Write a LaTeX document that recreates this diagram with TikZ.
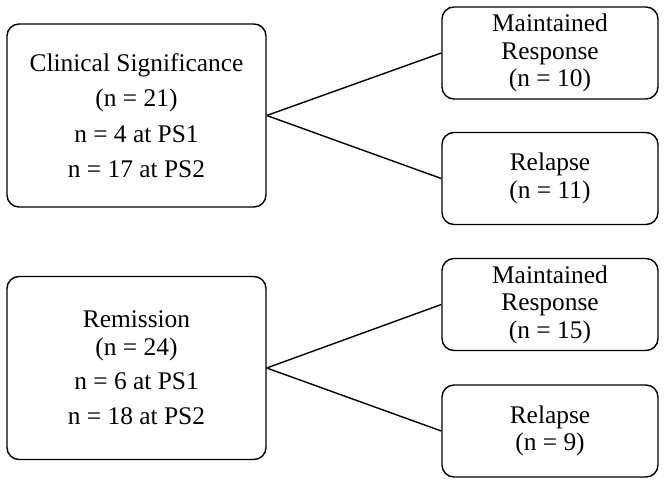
\documentclass[tikz,border=0pt]{standalone}
\usepackage{fontspec}
\setmainfont{Liberation Serif}
\usetikzlibrary{calc}

\begin{document}
\begin{tikzpicture}[x=1bp,y=-1bp,
    box/.style={draw,rounded corners=12bp,line width=1.4bp,align=center,
        inner sep=0pt,font=\fontsize{25.5}{27.5}\selectfont},
    groupbox/.style={box,minimum width=259bp,minimum height=183bp},
    outcomebox/.style={box,minimum width=216bp,minimum height=92bp},
    link/.style={line width=1.4bp}]
    \useasboundingbox (0,0) rectangle (664,485);
    % upper group
    \node[groupbox] (clin) at (136.5,115.5)
        {Clinical Significance\\[8bp](n = 21)\\[8bp]n = 4 at PS1\\[8bp]n = 17 at PS2};
    \node[outcomebox] (clinmr) at (550,53) {Maintained\\Response\\(n = 10)};
    \node[outcomebox] (clinrl) at (550,178.5) {Relapse\\(n = 11)};
    % lower group
    \node[groupbox] (rem) at (136.5,368)
        {Remission\\(n = 24)\\[7bp]n = 6 at PS1\\[8bp]n = 18 at PS2};
    \node[outcomebox] (remmr) at (550,304.5) {Maintained\\Response\\(n = 15)};
    \node[outcomebox] (remrl) at (550,431) {Relapse\\(n = 9)};
    \foreach \g/\m/\r in {clin/clinmr/clinrl,rem/remmr/remrl}{
            \draw[link] (\g.east)--(\m.west);
            \draw[link] (\g.east)--(\r.west);}
\end{tikzpicture}
\end{document}
